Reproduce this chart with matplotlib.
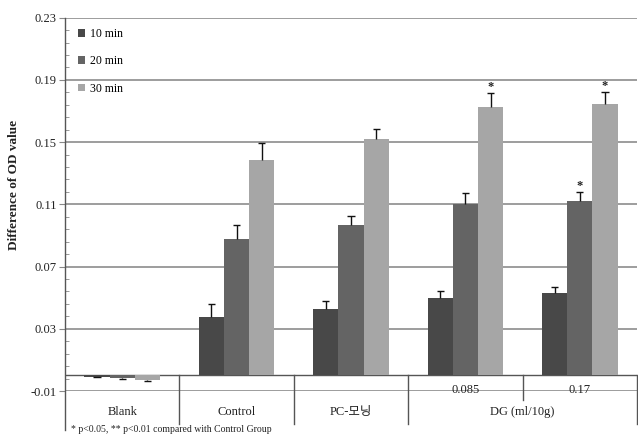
import matplotlib
matplotlib.use('Agg')
import matplotlib.pyplot as plt
import numpy as np

plt.rcParams['font.family'] = ['Liberation Serif', 'Noto Sans CJK KR', 'DejaVu Sans']

# 데이터
groups = ['Blank', 'Control', 'PC-모닝', '0.085', '0.17']
series = ['10 min', '20 min', '30 min']
vals_10 = [-0.0009, 0.0373, 0.0426, 0.0501, 0.0527]
vals_20 = [-0.0016, 0.0876, 0.0966, 0.1103, 0.1122]
vals_30 = [-0.0028, 0.1385, 0.1518, 0.1728, 0.1747]
err_10 = [0.0004, 0.0085, 0.0054, 0.0045, 0.0039]
err_20 = [0.0004, 0.0094, 0.0056, 0.0068, 0.0060]
err_30 = [0.0005, 0.0110, 0.0068, 0.0090, 0.0077]
# 유의성 표시 (series index, group index)
stars = [(2, 3), (1, 4), (2, 4)]
colors = ['#484848', '#646464', '#a6a6a6']

fig = plt.figure(figsize=(6.38, 4.40), dpi=100)
ax = fig.add_axes([65 / 638, 1 - 391 / 440, 572 / 638, (391 - 17.7) / 440])

x = np.arange(len(groups))
w = 0.22
cap = 0.032
all_vals = [vals_10, vals_20, vals_30]
all_errs = [err_10, err_20, err_30]
for i, (v, e) in enumerate(zip(all_vals, all_errs)):
    v = np.array(v)
    e = np.array(e)
    pos = x + (i - 1) * w
    ax.bar(pos, v, width=w, color=colors[i], label=series[i], zorder=3)
    # 한쪽 방향 오차막대 (양수는 위로, 음수는 아래로)
    end = np.where(v < 0, v - e, v + e)
    ax.vlines(pos, v, end, color='#111111', lw=1, zorder=4)
    ax.hlines(end, pos - cap, pos + cap, color='#111111', lw=1, zorder=4)

for si, gi in stars:
    top = all_vals[si][gi] + all_errs[si][gi]
    ax.text(gi + (si - 1) * w, top + 0.0035, '*', ha='center', va='center',
            fontsize=9, fontweight='bold', color='#222222', zorder=5)

ax.set_xlim(-0.5, 4.5)
ax.set_ylim(-0.01, 0.23)
yt = np.arange(-0.01, 0.2301, 0.04)
ax.set_yticks(yt)
ax.set_yticklabels(['%.2f' % t for t in yt], fontsize=9, color='#222222')
ax.set_yticks(np.arange(-0.01, 0.23, 0.008), minor=True)
ax.tick_params(axis='y', which='major', length=4, color='#888888', pad=2)
ax.tick_params(axis='y', which='minor', direction='in', length=3, color='#888888')
ax.set_xticks([])
ax.grid(axis='y', color='#8c8c8c', linewidth=1.2, zorder=0)
ax.set_axisbelow(True)
for s in ['top', 'right', 'bottom', 'left']:
    ax.spines[s].set_visible(False)

# 축선과 구분선
ax.plot([-0.5, -0.5], [0.23, -0.035], color='#555555', lw=1, clip_on=False, zorder=2)
ax.axhline(0, color='#555555', lw=1, zorder=2)
for xs in [0.5, 1.5, 2.5, 4.5]:
    ax.plot([xs, xs], [0, -0.031], color='#555555', lw=1, clip_on=False)
ax.plot([3.5, 3.5], [0, -0.0155], color='#555555', lw=1, clip_on=False)

# 범주 라벨
for gi in [3, 4]:
    ax.text(gi, -0.0092, groups[gi], ha='center', va='center', fontsize=9,
            color='#222222')
for xc, lab in [(0, 'Blank'), (1, 'Control'), (2, 'PC-모닝'), (3.5, 'DG (ml/10g)')]:
    ax.text(xc, -0.0236, lab, ha='center', va='center', fontsize=9, color='#222222')
ax.text(-0.45, -0.0345, '* p<0.05, ** p<0.01 compared with Control Group',
        ha='left', va='center', fontsize=7, color='#222222')

fig.text(14 / 638, 1 - 185 / 440, 'Difference of OD value', rotation=90,
         ha='center', va='center', fontsize=9.5, fontweight='bold', color='#222222')

ax.legend(loc='upper left', bbox_to_anchor=(0.015, 0.985), frameon=False,
          fontsize=8.5, handlelength=0.6, handleheight=0.6, handletextpad=0.35,
          labelspacing=1.3, borderaxespad=0)

fig.savefig('out.png', dpi=100)
